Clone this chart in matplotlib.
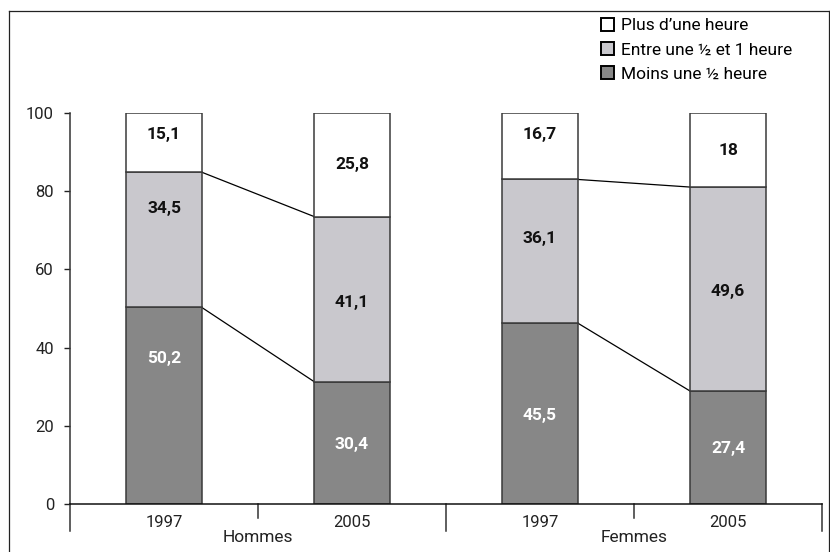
import numpy as np
import matplotlib
matplotlib.use("Agg")
import matplotlib.pyplot as plt
from matplotlib.patches import Patch
from matplotlib.lines import Line2D

# =========================
# Data
# =========================
years = ["1997", "2005", "1997", "2005"]
groups = ["Hommes", "Femmes"]
series_names = ["Moins une ½ heure", "Entre une ½ et 1 heure", "Plus d’une heure"]
moins = [50.2, 30.4, 45.5, 27.4]
entre = [34.5, 41.1, 36.1, 49.6]
plus = [15.1, 25.8, 16.7, 18]

# styles
colors = ["#878787", "#c9c8cd", "#ffffff"]
text_colors = ["white", "#111111", "#111111"]
# where each value label sits inside its segment (fraction from segment bottom)
label_frac = [
    [0.74, 0.49, 0.49, 0.49],
    [0.73, 0.48, 0.59, 0.49],
    [0.63, 0.50, 0.68, 0.50],
]

plt.rcParams["font.family"] = ["Roboto", "DejaVu Sans"]

# bars are drawn as 100% stacks
values = np.array([moins, entre, plus])
shares = values / values.sum(axis=0) * 100

W, H = 830, 552
fig = plt.figure(figsize=(W / 100, H / 100), dpi=100)
ax = fig.add_axes([70 / W, (H - 504) / H, 752 / W, 391 / H])

x = np.arange(len(years)) + 0.5
bw = 0.4

bottom = np.zeros(len(years))
tops = []
for i in range(3):
    ax.bar(x, shares[i], bw, bottom=bottom, color=colors[i],
           edgecolor="#3a3a3a", linewidth=1.1, zorder=2)
    for j in range(len(years)):
        label = f"{values[i][j]:g}".replace(".", ",")
        ax.text(x[j], bottom[j] + shares[i][j] * label_frac[i][j], label,
                ha="center", va="center", fontsize=12.5, fontweight="bold",
                color=text_colors[i], zorder=3)
    bottom = bottom + shares[i]
    tops.append(bottom.copy())

# connector lines between 1997 and 2005 bars of each group
for g in range(len(groups)):
    a, b = 2 * g, 2 * g + 1
    for k in range(2):
        ax.plot([x[a] + bw / 2, x[b] - bw / 2], [tops[k][a], tops[k][b]],
                color="black", linewidth=0.9, zorder=1)

# axes
ax.set_xlim(0, len(years))
ax.set_ylim(0, 100)
ax.set_yticks([0, 20, 40, 60, 80, 100])
ax.tick_params(axis="y", direction="out", length=4.5, width=1, labelsize=12,
               pad=7, colors="#222222")
ax.set_xticks(x)
ax.set_xticklabels(years)
ax.tick_params(axis="x", length=0, labelsize=12, pad=8, colors="#222222")

for s in ["top", "right"]:
    ax.spines[s].set_visible(False)
ax.spines["left"].set_linewidth(1.1)
ax.spines["left"].set_color("#333333")
ax.spines["bottom"].set_linewidth(1.1)
ax.spines["bottom"].set_color("#111111")

# group separators below the x axis
trans = ax.get_xaxis_transform()
for p in range(len(years) + 1):
    low = -0.069 if p % 2 == 0 else -0.036
    ax.plot([p, p], [0, low], transform=trans, color="#333333",
            linewidth=1.1, clip_on=False)

for g, name in enumerate(groups):
    ax.text(2 * g + 1, -0.086, name, transform=trans, ha="center",
            va="center", fontsize=12.5, color="#222222")

# legend
handles = [Patch(facecolor=colors[i], edgecolor="black", linewidth=1.4)
           for i in [2, 1, 0]]
labels = [series_names[i] for i in [2, 1, 0]]
fig.legend(handles, labels, loc="upper left",
           bbox_to_anchor=(601 / W, 1 - 18 / H), frameon=False,
           fontsize=12.5, handlelength=0.75, handleheight=0.75,
           handletextpad=0.4, labelspacing=0.5, borderpad=0,
           borderaxespad=0)

# outer frame
fx0, fx1, fy1 = 8.5 / W, 828.5 / W, 1 - 11 / H
for xs, ys in [([fx0, fx0], [0, fy1]), ([fx0, fx1], [fy1, fy1]),
               ([fx1, fx1], [fy1, 0])]:
    fig.add_artist(Line2D(xs, ys, color="#222222", linewidth=0.9))

fig.savefig("out.png", dpi=100)
